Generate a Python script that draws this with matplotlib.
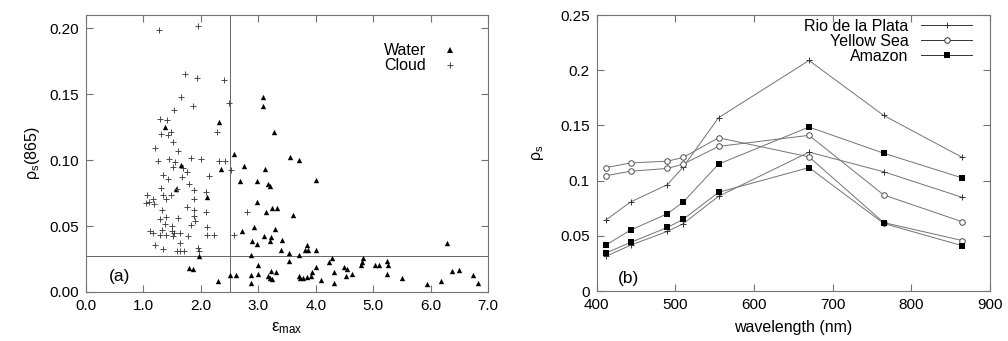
import numpy as np
import matplotlib
matplotlib.use("Agg")
import matplotlib.pyplot as plt
from matplotlib.lines import Line2D

plt.rcParams['font.family'] = ['Liberation Sans', 'DejaVu Sans']
plt.rcParams['font.size'] = 10

# (a) scatter: cloud pixels and water pixels
cloud_x = [1.266, 1.956, 1.73, 1.927, 2.41, 1.654, 1.857, 2.495, 1.525, 1.29, 1.405, 1.31, 1.43,
           1.485, 1.51, 2.287, 1.195, 1.607, 1.259, 1.45, 1.55, 1.828, 1.997, 2.316, 2.42, 2.523,
           1.52, 1.683, 1.753, 1.677, 1.335, 1.433, 2.142, 1.793, 1.30, 1.579, 1.886, 2.09, 1.057,
           1.172, 1.346, 1.475, 1.39, 1.045, 1.19, 1.10, 1.886, 1.753, 1.318, 1.886, 2.084, 2.798,
           1.886, 1.289, 1.39, 1.597, 1.898, 1.376, 1.492, 1.828, 2.10, 1.115, 1.172, 1.318, 1.492,
           1.538, 1.289, 1.39, 1.51, 1.637, 1.77, 2.10, 2.227, 2.582, 1.637, 1.20, 1.346, 1.579,
           1.637, 1.712, 1.956, 1.968]
cloud_y = [0.199, 0.202, 0.165, 0.162, 0.161, 0.148, 0.141, 0.143, 0.138, 0.131, 0.1305, 0.120, 0.119,
           0.121, 0.114, 0.121, 0.109, 0.107, 0.099, 0.101, 0.0985, 0.1015, 0.101, 0.0995, 0.099, 0.0926,
           0.095, 0.094, 0.0906, 0.087, 0.089, 0.0856, 0.0876, 0.082, 0.079, 0.078, 0.0775, 0.0755, 0.0732,
           0.0705, 0.0732, 0.0737, 0.0705, 0.0674, 0.0667, 0.0686, 0.0705, 0.0648, 0.0618, 0.0623, 0.061, 0.0603,
           0.0578, 0.0553, 0.0565, 0.056, 0.054, 0.0515, 0.0497, 0.051, 0.0492, 0.0464, 0.0447, 0.0472, 0.0459,
           0.0447, 0.0434, 0.0434, 0.0421, 0.0447, 0.0427, 0.0434, 0.0434, 0.0434, 0.0371, 0.0353, 0.0328, 0.0313,
           0.0313, 0.0308, 0.0333, 0.0308]

water_x = [1.38, 2.316, 3.087, 3.087, 3.268, 1.649, 1.562, 2.10, 2.351, 2.577, 2.751, 2.682, 2.711,
           1.973, 1.80, 1.868, 2.304, 2.507, 2.606, 3.117, 2.972, 3.174, 3.204, 2.983, 3.129, 3.244,
           3.32, 3.61, 3.552, 3.714, 2.925, 2.896, 2.972, 3.10, 3.216, 3.204, 3.291, 3.407, 3.395,
           3.54, 3.714, 2.868, 2.99, 2.868, 3.0, 2.87, 3.174, 3.216, 3.303, 3.204, 3.714, 3.72,
           3.784, 3.854, 3.912, 3.843, 3.814, 3.871, 4.005, 4.0, 4.278, 4.818, 4.806, 4.237, 3.533,
           5.236, 4.783, 5.027, 5.107, 5.264, 4.0, 4.492, 4.539, 3.941, 4.323, 4.627, 5.247, 3.233,
           4.527, 4.092, 5.497, 4.318, 5.943, 6.182, 6.28, 6.367, 6.489, 6.744, 6.82]
water_y = [0.125, 0.129, 0.148, 0.141, 0.121, 0.096, 0.078, 0.0717, 0.0934, 0.105, 0.0952, 0.0838, 0.0459,
           0.027, 0.0182, 0.0174, 0.008, 0.0131, 0.0131, 0.0934, 0.0843, 0.0818, 0.080, 0.0686, 0.061, 0.0636,
           0.0636, 0.0586, 0.1027, 0.0997, 0.0492, 0.0389, 0.0364, 0.0421, 0.0417, 0.0383, 0.048, 0.0396, 0.032,
           0.0295, 0.0277, 0.0277, 0.0207, 0.0131, 0.0136, 0.0068, 0.0123, 0.0161, 0.0151, 0.0106, 0.0118, 0.0106,
           0.0106, 0.0114, 0.0118, 0.0358, 0.032, 0.032, 0.0851, 0.032, 0.0257, 0.0257, 0.0227, 0.0224, 0.0232,
           0.0232, 0.0207, 0.0207, 0.0207, 0.0207, 0.0189, 0.0186, 0.0176, 0.0151, 0.0148, 0.0136, 0.0139, 0.0098,
           0.0118, 0.0093, 0.0106, 0.0068, 0.006, 0.008, 0.0371, 0.0156, 0.0169, 0.0126, 0.0065]

eps_threshold = 2.5
rho_threshold = 0.027

# (b) spectra
wavelength = [412, 443, 490, 510, 555, 670, 765, 865]
rio_1 = [0.0645, 0.0806, 0.0964, 0.1124, 0.157, 0.2088, 0.159, 0.121]
rio_2 = [0.0315, 0.0415, 0.054, 0.061, 0.0858, 0.1258, 0.108, 0.0848]
yellow_1 = [0.1118, 0.116, 0.1176, 0.121, 0.1388, 0.1215, 0.062, 0.0457]
yellow_2 = [0.1045, 0.1085, 0.111, 0.115, 0.131, 0.141, 0.087, 0.0627]
amazon_1 = [0.0418, 0.0552, 0.070, 0.0806, 0.115, 0.1485, 0.1248, 0.1024]
amazon_2 = [0.0345, 0.044, 0.0576, 0.065, 0.0894, 0.1118, 0.0612, 0.041]

fig = plt.figure(figsize=(10.08, 3.41), dpi=100)
ax1 = fig.add_axes([0.0853, 0.1437, 0.3988, 0.8123])
ax2 = fig.add_axes([0.592, 0.1466, 0.390, 0.8094])

frame = '0.45'
for ax in (ax1, ax2):
    for s in ax.spines.values():
        s.set_color(frame)
        s.set_linewidth(0.8)
    ax.tick_params(direction='in', top=True, right=True, length=5, width=0.8,
                   color=frame, labelsize=11, pad=5)

# (a)
ax1.scatter(water_x, water_y, marker='^', s=15, color='black', linewidths=0, zorder=3)
ax1.scatter(cloud_x, cloud_y, marker='+', s=25, color='0.25', linewidths=0.65, zorder=3)
ax1.axvline(eps_threshold, color='0.4', lw=0.7)
ax1.axhline(rho_threshold, color='0.4', lw=0.7)
ax1.set_xlim(0, 7)
ax1.set_ylim(0, 0.21)
ax1.set_xticks(np.arange(0, 7.01, 1.0))
ax1.set_xticklabels([f"{v:.1f}" for v in np.arange(0, 7.01, 1.0)])
ax1.set_yticks(np.arange(0, 0.201, 0.05))
ax1.set_yticklabels([f"{v:.2f}" for v in np.arange(0, 0.201, 0.05)])
ax1.set_xlabel(r'$\mathregular{\varepsilon_{max}}$', fontsize=12, labelpad=5)
ax1.set_ylabel(r'$\mathregular{\rho_s(865)}$', fontsize=11.5, labelpad=5)
ax1.text(0.4, 0.008, '(a)', fontsize=12.5)
h1 = [Line2D([], [], ls='none', marker='^', ms=4, color='black', mew=0),
      Line2D([], [], ls='none', marker='+', ms=5, color='0.25', mew=0.65)]
ax1.legend(h1, ['Water', 'Cloud'], loc='upper right', frameon=False, markerfirst=False,
           fontsize=11.5, handlelength=1.5, labelspacing=0.0, borderaxespad=1.2,
           bbox_to_anchor=(1.0, 0.99))

# (b)
lc = '0.45'
ax2.plot(wavelength, rio_1, color=lc, lw=0.7, marker='+', ms=5, mec='0.2', mew=0.7)
ax2.plot(wavelength, rio_2, color=lc, lw=0.7, marker='+', ms=5, mec='0.2', mew=0.7)
ax2.plot(wavelength, yellow_1, color=lc, lw=0.7, marker='o', ms=4, mfc='white', mec='0.3', mew=0.7)
ax2.plot(wavelength, yellow_2, color=lc, lw=0.7, marker='o', ms=4, mfc='white', mec='0.3', mew=0.7)
ax2.plot(wavelength, amazon_1, color=lc, lw=0.7, marker='s', ms=4.5, mfc='black', mec='black', mew=0)
ax2.plot(wavelength, amazon_2, color=lc, lw=0.7, marker='s', ms=4.5, mfc='black', mec='black', mew=0)
ax2.set_xlim(400, 900)
ax2.set_ylim(0, 0.25)
ax2.set_xticks(range(400, 901, 100))
ax2.set_yticks([0, 0.05, 0.1, 0.15, 0.2, 0.25])
ax2.set_yticklabels(['0', '0.05', '0.1', '0.15', '0.2', '0.25'])
ax2.set_xlabel('wavelength (nm)', fontsize=11.5, labelpad=6)
ax2.set_ylabel(r'$\mathregular{\rho_s}$', fontsize=11.5, labelpad=10)
ax2.text(427, 0.007, '(b)', fontsize=12.5)
h2 = [Line2D([], [], color='0.2', lw=0.7, marker='+', ms=5, mew=0.7),
      Line2D([], [], color='0.2', lw=0.7, marker='o', ms=4, mfc='white', mew=0.7),
      Line2D([], [], color='0.2', lw=0.7, marker='s', ms=4.5, mfc='black', mew=0)]
ax2.legend(h2, ['Rio de la Plata', 'Yellow Sea', 'Amazon'], loc='upper right', frameon=False,
           markerfirst=False, fontsize=11.5, handlelength=3.2, labelspacing=0.0,
           borderaxespad=0.2, bbox_to_anchor=(0.98, 1.02))

fig.savefig('out.png', dpi=100)
